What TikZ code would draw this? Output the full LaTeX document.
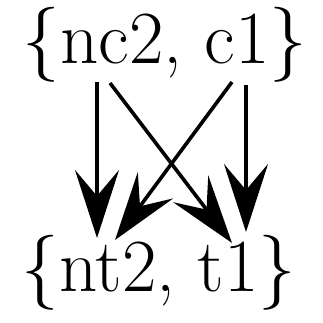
\documentclass[tikz,border=0pt]{standalone}
\usepackage{tikz}
\usetikzlibrary{calc,arrows.meta}

\begin{document}
\begin{tikzpicture}[x=1pt,y=-1pt]
        \useasboundingbox (0,0) rectangle (323,322);
        \tikzset{settext/.style={anchor=base, inner sep=0pt, font=\fontsize{75}{75}\selectfont},
                 trans/.style={line width=3.6pt, -{Stealth[length=68pt, width=44pt, inset=26pt]}}}

        % the two sets
        \node[settext] (top) at (165,63) {\{nc2, c1\}};
        \node[settext] (bot) at (159,291) {\{nt2, t1\}};

        % start points under nc2 and c1
        \coordinate (nc2) at (97,82);
        \coordinate (nc2b) at (110,83);
        \coordinate (c1) at (232,82);
        \coordinate (c1b) at (246,85);

        % end points above nt2 and t1
        \coordinate (nt2) at (97,238);
        \coordinate (nt2b) at (115,240);
        \coordinate (t1) at (232,243);
        \coordinate (t1b) at (246,232);

        \draw[trans] (nc2) -- (nt2);
        \draw[trans] (nc2b) -- (t1);
        \draw[trans] (c1) -- (nt2b);
        \draw[trans] (c1b) -- (t1b);

    \end{tikzpicture}
\end{document}
